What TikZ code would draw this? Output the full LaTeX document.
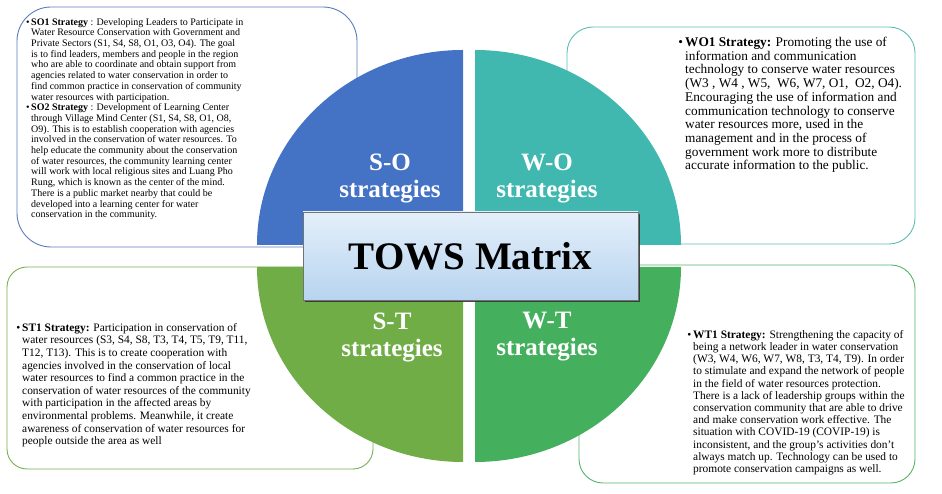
\documentclass[tikz,border=0pt]{standalone}
\usepackage{fontspec}
\setmainfont{Liberation Serif}
\usetikzlibrary{shadows}
\definecolor{SOBlue}{HTML}{4472C4}
\definecolor{WOTeal}{HTML}{40B8B0}
\definecolor{STGreen}{HTML}{70AD47}
\definecolor{WTGreen}{HTML}{44B05E}
\definecolor{SOLine}{HTML}{5A7DBE}
\definecolor{WOLine}{HTML}{5DBDB6}
\definecolor{STLine}{HTML}{78B052}
\definecolor{WTLine}{HTML}{58B46A}
\definecolor{MatrixTop}{HTML}{E4EFFA}
\definecolor{MatrixBot}{HTML}{B7D4EF}

\begin{document}
\begin{tikzpicture}[x=1pt, y=1pt,
    stratbox/.style={line width=0.9pt, fill=white},
    qlabel/.style={text=white, font=\fontsize{25}{27}\selectfont\bfseries, align=center},
    strattext/.style={anchor=north west, inner sep=0pt, align=left}]
  \useasboundingbox (0,0) rectangle (942,494);

  % strategy frames (behind the circle)
  \draw[stratbox, draw=SOLine, rounded corners=34pt] (17,247) rectangle (357,487);
  \draw[stratbox, draw=WOLine, rounded corners=26pt] (567,250) rectangle (915,467);
  \draw[stratbox, draw=STLine, rounded corners=20pt] (7,25) rectangle (373,227);
  \draw[stratbox, draw=WTLine, rounded corners=24pt] (579,11) rectangle (915,229);

  % four quarters
  \fill[SOBlue] (463,249) -- (257,249) arc[start angle=180, end angle=90, x radius=206, y radius=195] -- cycle;
  \fill[WOTeal] (475,249) -- (475,444) arc[start angle=90, end angle=0, x radius=206, y radius=195] -- cycle;
  \fill[STGreen] (463,227) -- (257,227) arc[start angle=180, end angle=270, x radius=206, y radius=195] -- cycle;
  \fill[WTGreen] (475,227) -- (681,227) arc[start angle=0, end angle=-90, x radius=206, y radius=195] -- cycle;

  \node[qlabel] (solabel) at (390,316) {S-O\\strategies};
  \node[qlabel] (wolabel) at (547,316) {W-O\\strategies};
  \node[qlabel] (stlabel) at (392,157) {S-T\\strategies};
  \node[qlabel] (wtlabel) at (547,157) {W-T\\strategies};

  \node[draw=black!55, line width=0.6pt, top color=MatrixTop, middle color=white, bottom color=MatrixBot,
    minimum width=335pt, minimum height=88pt, font=\fontsize{39}{39}\selectfont\bfseries,
    drop shadow={shadow xshift=2pt, shadow yshift=-2pt, fill=black!80, opacity=0.9}] (tows) at (470.5,238) {TOWS Matrix};

  % strategy texts
  \node[strattext, font=\fontsize{10}{10.7}\selectfont] (sotext) at (31,476) {%
    \llap{\textbullet\,}\textbf{SO1 Strategy} : Developing Leaders to Participate in\\
    Water Resource Conservation with Government and\\
    Private Sectors (S1, S4, S8, O1, O3, O4). The goal\\
    is to find leaders, members and people in the region\\
    who are able to coordinate and obtain support from\\
    agencies related to water conservation in order to\\
    find common practice in conservation of community\\
    water resources with participation.\\
    \llap{\textbullet\,}\textbf{SO2 Strategy} : Development of Learning Center\\
    through Village Mind Center (S1, S4, S8, O1, O8,\\
    O9). This is to establish cooperation with agencies\\
    involved in the conservation of water resources. To\\
    help educate the community about the conservation\\
    of water resources, the community learning center\\
    will work with local religious sites and Luang Pho\\
    Rung, which is known as the center of the mind.\\
    There is a public market nearby that could be\\
    developed into a learning center for water\\
    conservation in the community.};
  \node[strattext, font=\fontsize{13.3}{13.7}\selectfont] (wotext) at (685,457) {%
    \llap{\textbullet\,}\textbf{WO1 Strategy:} Promoting the use of\\
    information and communication\\
    technology to conserve water resources\\
    (W3 , W4 , W5, \ W6, W7, O1, \ O2, O4).\\
    Encouraging the use of information and\\
    communication technology to conserve\\
    water resources more, used in the\\
    management and in the process of\\
    government work more to distribute\\
    accurate information to the public.};
  \node[strattext, font=\fontsize{11.4}{12.6}\selectfont] (sttext) at (22,171) {%
    \llap{\textbullet\,}\textbf{ST1 Strategy:} Participation in conservation of\\
    water resources (S3, S4, S8, T3, T4, T5, T9, T11,\\
    T12, T13). This is to create cooperation with\\
    agencies involved in the conservation of local\\
    water resources to find a common practice in the\\
    conservation of water resources of the community\\
    with participation in the affected areas by\\
    environmental problems. Meanwhile, it create\\
    awareness of conservation of water resources for\\
    people outside the area as well};
  \node[strattext, font=\fontsize{11.4}{12.2}\selectfont] (wttext) at (693,164) {%
    \llap{\textbullet\,}\textbf{WT1 Strategy:} Strengthening the capacity of\\
    being a network leader in water conservation\\
    (W3, W4, W6, W7, W8, T3, T4, T9). In order\\
    to stimulate and expand the network of people\\
    in the field of water resources protection.\\
    There is a lack of leadership groups within the\\
    conservation community that are able to drive\\
    and make conservation work effective. The\\
    situation with COVID-19 (COVIP-19) is\\
    inconsistent, and the group's activities don't\\
    always match up. Technology can be used to\\
    promote conservation campaigns as well.};
\end{tikzpicture}
\end{document}
